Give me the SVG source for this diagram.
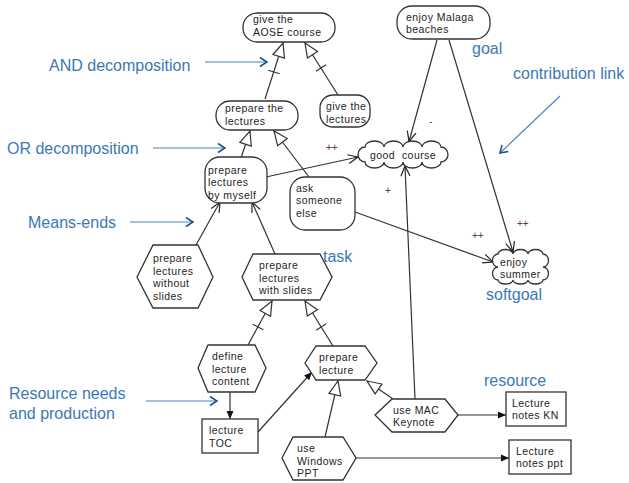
<svg xmlns="http://www.w3.org/2000/svg" width="629" height="483" viewBox="0 0 629 483">
<defs>
<style>
.n{fill:#fff;stroke:#333;stroke-width:1.3}
.t{font-family:"Liberation Sans",Arial,sans-serif;font-size:10.5px;letter-spacing:0.45px;fill:#1e1e1e}
.lb{font-family:"Liberation Sans",Arial,sans-serif;font-size:16px;fill:#3b78b4}
.c{font-family:"Liberation Sans",Arial,sans-serif;font-size:10px;fill:#5a3a3a}
.ln{fill:none;stroke:#333;stroke-width:1.2}
.bl{fill:none;stroke:#4a86c0;stroke-width:1.2}
</style>
<marker id="open" markerUnits="userSpaceOnUse" markerWidth="12" markerHeight="12" refX="10" refY="5" orient="auto" overflow="visible"><path d="M0,0.5 L10,5 L0,9.5" fill="none" stroke="#222" stroke-width="1.2"/></marker>
<marker id="fill" markerUnits="userSpaceOnUse" markerWidth="9" markerHeight="8" refX="8" refY="3.5" orient="auto" overflow="visible"><path d="M0,0 L8,3.5 L0,7 Z" fill="#111"/></marker>
<marker id="tri" markerUnits="userSpaceOnUse" markerWidth="15" markerHeight="13" refX="14" refY="6" orient="auto" overflow="visible"><path d="M0,0 L14,6 L0,12 Z" fill="#fff" stroke="#333" stroke-width="1.2"/></marker>
<marker id="bv" markerUnits="userSpaceOnUse" markerWidth="9" markerHeight="10" refX="7" refY="4.5" orient="auto" overflow="visible"><path d="M0,0 L7,4.5 L0,9" fill="none" stroke="#1e4d8c" stroke-width="1.5"/></marker>
</defs>

<g id="connectors">
<line class="ln" x1="265" y1="99" x2="283" y2="43" marker-end="url(#tri)"/>
<line class="ln" x1="268.3" y1="70.2" x2="279.7" y2="73.8"/>
<line class="ln" x1="338" y1="95" x2="305" y2="43" marker-end="url(#tri)"/>
<line class="ln" x1="315.9" y1="71.2" x2="326.1" y2="64.8"/>
<line class="ln" x1="241" y1="158" x2="250" y2="131" marker-end="url(#tri)"/>
<line class="ln" x1="309" y1="177" x2="274" y2="131" marker-end="url(#tri)"/>
<line class="ln" x1="196" y1="245" x2="220" y2="202" marker-end="url(#open)"/>
<line class="ln" x1="275" y1="254" x2="252" y2="202" marker-end="url(#open)"/>
<line class="ln" x1="266" y1="177" x2="358" y2="157" marker-end="url(#open)"/>
<line class="ln" x1="355" y1="212" x2="493" y2="262" marker-end="url(#open)"/>
<line class="ln" x1="437" y1="40" x2="409" y2="141.5" marker-end="url(#open)"/>
<line class="ln" x1="449" y1="40" x2="513" y2="252" marker-end="url(#open)"/>
<line class="ln" x1="415" y1="399" x2="405" y2="166" marker-end="url(#open)"/>
<line class="ln" x1="248" y1="345" x2="272" y2="301" marker-end="url(#tri)"/>
<line class="ln" x1="252.7" y1="324.2" x2="263.3" y2="329.8"/>
<line class="ln" x1="333" y1="346" x2="305" y2="301" marker-end="url(#tri)"/>
<line class="ln" x1="316.1" y1="330.2" x2="326.3" y2="323.8"/>
<line class="ln" x1="325" y1="437" x2="338" y2="381" marker-end="url(#tri)"/>
<line class="ln" x1="393" y1="399" x2="367" y2="381" marker-end="url(#tri)"/>
<line class="ln" x1="230" y1="392" x2="230" y2="419" marker-end="url(#fill)"/>
<line class="ln" x1="258" y1="432" x2="312" y2="372" stroke-width="0.9" marker-end="url(#fill)"/>
<line class="ln" x1="458" y1="415" x2="506" y2="415" marker-end="url(#fill)"/>
<line class="ln" x1="356" y1="458" x2="509" y2="458" marker-end="url(#fill)"/>
<text class="c" x="326" y="151">++</text>
<text class="c" x="472" y="239">++</text>
<text class="c" x="517" y="227">++</text>
<text class="c" x="429" y="125">-</text>
<text class="c" x="385" y="194">+</text>
</g>

<g id="annotations">
<text class="lb" x="49" y="71">AND decomposition</text>
<line class="bl" x1="205" y1="62" x2="267" y2="62" marker-end="url(#bv)"/>
<text class="lb" x="7" y="154">OR decomposition</text>
<line class="bl" x1="153" y1="148" x2="225" y2="148" marker-end="url(#bv)"/>
<text class="lb" x="28" y="228">Means-ends</text>
<line class="bl" x1="130" y1="222" x2="193" y2="222" marker-end="url(#bv)"/>
<text class="lb" x="9" y="399">Resource needs</text>
<text class="lb" x="9" y="419">and production</text>
<line class="bl" x1="146" y1="401" x2="217" y2="401" marker-end="url(#bv)"/>
<text class="lb" x="472" y="54">goal</text>
<text class="lb" x="513" y="79">contribution link</text>
<line class="bl" x1="560" y1="96" x2="500" y2="153" marker-end="url(#bv)"/>
<text class="lb" x="323" y="262">task</text>
<text class="lb" x="486" y="300">softgoal</text>
<text class="lb" x="484" y="386">resource</text>
</g>

<g id="give-aose-course">
<rect class="n" x="243" y="13" width="92" height="29" rx="14"/>
<text class="t" x="253" y="22.5">give the</text>
<text class="t" x="253" y="35.5">AOSE course</text>
</g>
<g id="prepare-the-lectures">
<rect class="n" x="216" y="101" width="82" height="29" rx="14"/>
<text class="t" x="225" y="112">prepare the</text>
<text class="t" x="225" y="125">lectures</text>
</g>
<g id="give-the-lectures">
<rect class="n" x="320" y="95" width="50" height="32" rx="13"/>
<text class="t" x="326" y="110">give the</text>
<text class="t" x="326" y="123">lectures</text>
</g>
<g id="enjoy-malaga-beaches">
<rect class="n" x="397" y="6" width="93" height="33" rx="15"/>
<text class="t" x="406" y="20.5">enjoy Malaga</text>
<text class="t" x="406" y="33">beaches</text>
</g>
<g id="good-course">
<path class="n" d="M365,147 A9.5,6 0 0 1 384,147 A9.5,6 0 0 1 403,147 A9.5,6 0 0 1 422,147 A9.5,6 0 0 1 441,147 A7,7.5 0 0 1 441,162 A9.5,6 0 0 1 422,162 A9.5,6 0 0 1 403,162 A9.5,6 0 0 1 384,162 A9.5,6 0 0 1 365,162 A7,7.5 0 0 1 365,147 Z"/>
<text class="t" x="370" y="158.5" xml:space="preserve">good  course</text>
</g>
<g id="enjoy-summer">
<path class="n" d="M498,254 A7.5,4.5 0 0 1 513,254 A7.5,4.5 0 0 1 528,254 A7.5,4.5 0 0 1 543,254 A5.5,6.5 0 0 1 543,267 A5.5,6.5 0 0 1 543,280 A7.5,4 0 0 1 528,280 A7.5,4 0 0 1 513,280 A7.5,4 0 0 1 498,280 A5.5,6.5 0 0 1 498,267 A5.5,6.5 0 0 1 498,254 Z"/>
<text class="t" x="500" y="266">enjoy</text>
<text class="t" x="500" y="278">summer</text>
</g>
<g id="prepare-lectures-by-myself">
<rect class="n" x="205" y="157" width="62" height="46" rx="15"/>
<text class="t" x="208" y="173.5">prepare</text>
<text class="t" x="208" y="186">lectures</text>
<text class="t" x="208" y="198.5">by myself</text>
</g>
<g id="ask-someone-else">
<rect class="n" x="290" y="177" width="65" height="53" rx="15"/>
<text class="t" x="296" y="191.5">ask</text>
<text class="t" x="296" y="204">someone</text>
<text class="t" x="296" y="216.5">else</text>
</g>
<g id="prepare-lectures-without-slides">
<polygon class="n" points="137,277 153,245 198,245 213,277 198,308 153,308"/>
<text class="t" x="153" y="262">prepare</text>
<text class="t" x="153" y="274.5">lectures</text>
<text class="t" x="153" y="287">without</text>
<text class="t" x="153" y="299.5">slides</text>
</g>
<g id="prepare-lectures-with-slides">
<polygon class="n" points="242,277 253,254 320,254 332,277 320,300 253,300"/>
<text class="t" x="259" y="269">prepare</text>
<text class="t" x="259" y="281.5">lectures</text>
<text class="t" x="259" y="294">with slides</text>
</g>
<g id="define-lecture-content">
<polygon class="n" points="198,368 208,345 255,345 266,368 255,392 208,392"/>
<text class="t" x="212" y="360">define</text>
<text class="t" x="212" y="372.5">lecture</text>
<text class="t" x="212" y="385">content</text>
</g>
<g id="prepare-lecture">
<polygon class="n" points="305,363 316,346 365,346 377,363 365,380 316,380"/>
<text class="t" x="319" y="361">prepare</text>
<text class="t" x="319" y="373.5">lecture</text>
</g>
<g id="lecture-toc">
<rect class="n" x="202" y="419" width="56" height="34"/>
<text class="t" x="209" y="434">lecture</text>
<text class="t" x="209" y="446.5">TOC</text>
</g>
<g id="use-windows-ppt">
<polygon class="n" points="282,458 293,437 343,437 356,458 343,480 293,480"/>
<text class="t" x="297" y="452">use</text>
<text class="t" x="297" y="464.5">Windows</text>
<text class="t" x="297" y="477">PPT</text>
</g>
<g id="use-mac-keynote">
<polygon class="n" points="375,415 392,399 445,399 458,415 445,432 392,432"/>
<text class="t" x="393" y="413.5">use MAC</text>
<text class="t" x="393" y="426">Keynote</text>
</g>
<g id="lecture-notes-kn">
<rect class="n" x="506" y="392" width="60" height="34"/>
<text class="t" x="512" y="406.5">Lecture</text>
<text class="t" x="512" y="419">notes KN</text>
</g>
<g id="lecture-notes-ppt">
<rect class="n" x="509" y="440" width="62" height="34"/>
<text class="t" x="516" y="454.5">Lecture</text>
<text class="t" x="516" y="467">notes ppt</text>
</g>
</svg>
